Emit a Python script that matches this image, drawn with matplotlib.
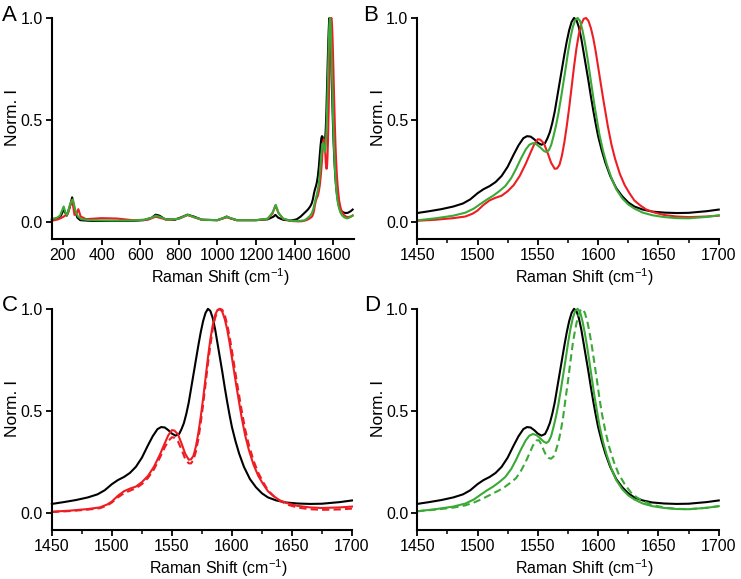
import numpy as np
import matplotlib
matplotlib.use('Agg')
import matplotlib.pyplot as plt
from matplotlib.ticker import MultipleLocator

plt.rcParams['font.family'] = ['Liberation Sans', 'DejaVu Sans']
plt.rcParams['mathtext.fontset'] = 'custom'
plt.rcParams['mathtext.rm'] = 'Liberation Sans'

RED = '#ee1d23'
GREEN = '#3aa935'

# ---- low wavenumber region (panel A only), 143-1440 cm-1
black_lo_x = [143, 170, 190, 204, 220, 235, 248, 260, 275, 290, 350, 450, 550, 620, 660, 680, 700, 730,
              780, 820, 845, 880, 920, 1000, 1030, 1048, 1065, 1100, 1200, 1260, 1290, 1300, 1315, 1340,
              1380, 1410, 1430, 1440]
black_lo_y = [0.01, 0.015, 0.03, 0.06, 0.03, 0.07, 0.12, 0.06, 0.02, 0.008, 0.004, 0.004, 0.004, 0.008,
              0.02, 0.035, 0.03, 0.012, 0.01, 0.025, 0.035, 0.025, 0.01, 0.008, 0.018, 0.026, 0.018, 0.008,
              0.008, 0.012, 0.025, 0.034, 0.02, 0.01, 0.006, 0.012, 0.025, 0.034]

red_lo_x = [143, 175, 200, 226, 238, 248, 260, 270, 280, 292, 320, 400, 480, 560, 640, 680, 700, 740,
            800, 845, 880, 920, 1000, 1048, 1100, 1200, 1260, 1285, 1300, 1315, 1340, 1380, 1420, 1440]
red_lo_y = [0.005, 0.012, 0.023, 0.04, 0.08, 0.108, 0.034, 0.04, 0.062, 0.026, 0.013, 0.018, 0.016,
            0.008, 0.01, 0.025, 0.02, 0.01, 0.015, 0.033, 0.022, 0.01, 0.008, 0.022, 0.008, 0.008, 0.015,
            0.04, 0.08, 0.045, 0.015, 0.004, 0.002, 0.003]

green_lo_x = [143, 170, 185, 204, 215, 222, 238, 252, 266, 278, 295, 340, 450, 550, 620, 660, 680, 700,
              740, 800, 845, 880, 920, 1000, 1048, 1100, 1200, 1260, 1285, 1302, 1318, 1340, 1380, 1420,
              1440]
green_lo_y = [0.015, 0.02, 0.03, 0.075, 0.04, 0.034, 0.09, 0.11, 0.05, 0.026, 0.013, 0.008, 0.006, 0.006,
              0.01, 0.02, 0.03, 0.025, 0.01, 0.015, 0.035, 0.022, 0.01, 0.008, 0.025, 0.008, 0.008, 0.015,
              0.045, 0.083, 0.04, 0.016, 0.005, 0.004, 0.006]

# ---- G band region, 1450-1700 cm-1
black_x = [1450, 1460, 1470, 1480, 1488, 1494, 1500, 1505, 1510, 1515, 1520, 1525, 1530, 1534, 1538,
           1541, 1544, 1547, 1550, 1553, 1556, 1558, 1560, 1562, 1564, 1567, 1570, 1572, 1574, 1576,
           1578, 1580, 1582, 1584, 1586, 1588, 1590, 1592, 1594, 1596, 1598, 1600, 1603, 1606, 1610,
           1615, 1620, 1625, 1630, 1637, 1645, 1655, 1665, 1675, 1690, 1700]
black_y = [0.043, 0.052, 0.062, 0.075, 0.09, 0.11, 0.14, 0.16, 0.175, 0.195, 0.225, 0.27, 0.33, 0.375,
           0.41, 0.42, 0.418, 0.405, 0.388, 0.378, 0.386, 0.41, 0.44, 0.485, 0.54, 0.645, 0.75, 0.82,
           0.885, 0.94, 0.98, 1.0, 0.99, 0.955, 0.9, 0.83, 0.76, 0.69, 0.615, 0.545, 0.48, 0.42, 0.35,
           0.29, 0.225, 0.165, 0.125, 0.095, 0.075, 0.06, 0.05, 0.045, 0.043, 0.044, 0.052, 0.06]

red_x = [1450, 1465, 1480, 1490, 1496, 1500, 1505, 1510, 1515, 1520, 1525, 1530, 1535, 1540, 1544,
         1547, 1550, 1552, 1555, 1558, 1561, 1564, 1566, 1568, 1570, 1572, 1574, 1576, 1578, 1580, 1582,
         1584, 1586, 1588, 1590, 1592, 1594, 1596, 1598, 1600, 1602, 1604, 1606, 1608, 1611, 1614, 1618,
         1622, 1626, 1630, 1635, 1640, 1647, 1655, 1665, 1675, 1690, 1700]
red_y = [0.005, 0.01, 0.018, 0.026, 0.04, 0.055, 0.083, 0.105, 0.118, 0.128, 0.15, 0.18, 0.225, 0.285,
         0.34, 0.38, 0.405, 0.403, 0.385, 0.34, 0.29, 0.26, 0.262, 0.28, 0.325, 0.39, 0.47, 0.56, 0.66,
         0.76, 0.85, 0.92, 0.97, 0.995, 1.0, 0.985, 0.95, 0.9, 0.835, 0.76, 0.685, 0.61, 0.54, 0.47, 0.38,
         0.31, 0.235, 0.18, 0.14, 0.105, 0.08, 0.06, 0.045, 0.033, 0.026, 0.023, 0.026, 0.03]

green_x = [1450, 1465, 1480, 1490, 1497, 1503, 1508, 1513, 1518, 1523, 1528, 1532, 1536, 1540, 1543,
           1546, 1549, 1552, 1555, 1557, 1559, 1561, 1563, 1565, 1567, 1569, 1571, 1573, 1575, 1577,
           1579, 1581, 1583, 1585, 1587, 1589, 1591, 1593, 1595, 1597, 1599, 1601, 1604, 1607, 1611,
           1615, 1620, 1625, 1630, 1637, 1645, 1655, 1665, 1675, 1690, 1700]
green_y = [0.007, 0.017, 0.03, 0.045, 0.065, 0.09, 0.11, 0.128, 0.15, 0.175, 0.215, 0.26, 0.31, 0.355,
           0.378, 0.386, 0.38, 0.365, 0.348, 0.342, 0.35, 0.375, 0.42, 0.47, 0.53, 0.6, 0.675, 0.75, 0.83,
           0.9, 0.955, 0.99, 1.0, 0.985, 0.94, 0.88, 0.81, 0.73, 0.65, 0.57, 0.5, 0.43, 0.35, 0.285, 0.215,
           0.16, 0.115, 0.085, 0.065, 0.045, 0.032, 0.023, 0.018, 0.017, 0.024, 0.032]

# dashed traces (panels C and D)
red2_x = [1450, 1465, 1480, 1490, 1496, 1500, 1505, 1510, 1515, 1520, 1525, 1530, 1535, 1540, 1544,
          1547, 1550, 1552, 1555, 1558, 1561, 1564, 1566, 1568, 1570, 1572, 1574, 1576, 1578, 1580, 1582,
          1584, 1586, 1588, 1590, 1592, 1594, 1596, 1598, 1600, 1602, 1604, 1606, 1608, 1611, 1614, 1618,
          1622, 1626, 1630, 1635, 1640, 1647, 1655, 1665, 1675, 1690, 1700]
red2_y = [0.003, 0.008, 0.015, 0.022, 0.035, 0.05, 0.075, 0.095, 0.108, 0.12, 0.14, 0.17, 0.212, 0.27,
          0.32, 0.352, 0.37, 0.368, 0.35, 0.31, 0.265, 0.242, 0.242, 0.26, 0.3, 0.36, 0.44, 0.53, 0.63,
          0.73, 0.82, 0.9, 0.955, 0.99, 1.0, 0.995, 0.97, 0.925, 0.865, 0.795, 0.72, 0.645, 0.575, 0.505,
          0.41, 0.335, 0.255, 0.195, 0.15, 0.11, 0.08, 0.058, 0.038, 0.025, 0.017, 0.014, 0.016, 0.02]

green2_x = [1450, 1465, 1480, 1490, 1497, 1503, 1508, 1513, 1518, 1523, 1528, 1532, 1536, 1540, 1543,
            1546, 1549, 1551, 1553, 1555, 1557, 1559, 1561, 1563, 1565, 1567, 1569, 1571, 1573, 1575,
            1577, 1579, 1581, 1583, 1585, 1587, 1589, 1591, 1593, 1595, 1597, 1599, 1601, 1603, 1606,
            1609, 1613, 1617, 1622, 1627, 1632, 1638, 1645, 1655, 1665, 1675, 1690, 1700]
green2_y = [0.007, 0.015, 0.025, 0.036, 0.05, 0.065, 0.08, 0.095, 0.11, 0.128, 0.15, 0.17, 0.205, 0.25,
            0.29, 0.33, 0.355, 0.355, 0.335, 0.305, 0.28, 0.268, 0.265, 0.275, 0.305, 0.345, 0.4, 0.47,
            0.56, 0.645, 0.74, 0.83, 0.9, 0.955, 0.99, 1.0, 0.98, 0.94, 0.88, 0.81, 0.73, 0.65, 0.565, 0.49,
            0.4, 0.325, 0.25, 0.19, 0.14, 0.1, 0.075, 0.055, 0.038, 0.025, 0.019, 0.017, 0.024, 0.032]

fig = plt.figure(figsize=(7.41, 5.79), dpi=100)

positions = {
    'A': [0.070, 0.587, 0.408, 0.382],
    'B': [0.563, 0.587, 0.407, 0.382],
    'C': [0.070, 0.0846, 0.405, 0.382],
    'D': [0.563, 0.0846, 0.407, 0.382],
}
letter_pos = {'A': (0.003, 0.992), 'B': (0.490, 0.992), 'C': (0.003, 0.490), 'D': (0.492, 0.490)}


def style(ax, letter):
    for s in ['top', 'right']:
        ax.spines[s].set_visible(False)
    for s in ['left', 'bottom']:
        ax.spines[s].set_linewidth(1.5)
    ax.set_ylim(-0.085, 1.0)
    ax.set_yticks([0.0, 0.5, 1.0])
    ax.set_yticklabels(['0.0', '0.5', '1.0'])
    ax.tick_params(which='major', length=4, width=1.3, labelsize=11.5, pad=2.5)
    ax.tick_params(which='minor', length=2.8, width=1.1)
    ax.set_ylabel('Norm. I', fontsize=12.5)
    ax.yaxis.set_label_coords(-0.105, 0.55)
    ax.set_xlabel('Raman Shift (cm$^{-1}$)', fontsize=11.5)
    ax.xaxis.set_label_coords(0.556, -0.122)
    fig.text(letter_pos[letter][0], letter_pos[letter][1], letter, fontsize=16, va='top', ha='left')


lw = 1.5

# A
ax = fig.add_axes(positions['A'])
ax.plot(black_lo_x + black_x, black_lo_y + black_y, color='black', lw=lw, clip_on=False)
ax.plot(red_lo_x + red_x, red_lo_y + red_y, color=RED, lw=lw, clip_on=False)
ax.plot(green_lo_x + green_x, green_lo_y + green_y, color=GREEN, lw=lw, clip_on=False)
ax.set_xlim(143, 1708)
ax.set_xticks(np.arange(200, 1601, 200))
style(ax, 'A')

# B
ax = fig.add_axes(positions['B'])
ax.plot(black_x, black_y, color='black', lw=lw, clip_on=False)
ax.plot(red_x, red_y, color=RED, lw=lw, clip_on=False)
ax.plot(green_x, green_y, color=GREEN, lw=lw, clip_on=False)
ax.set_xlim(1450, 1700)
ax.xaxis.set_major_locator(MultipleLocator(50))
ax.xaxis.set_minor_locator(MultipleLocator(25))
style(ax, 'B')

# C
ax = fig.add_axes(positions['C'])
ax.plot(black_x, black_y, color='black', lw=lw, clip_on=False)
ax.plot(red_x, red_y, color=RED, lw=lw, clip_on=False)
ax.plot(red2_x, red2_y, color=RED, lw=lw, ls=(0, (3.5, 2)), clip_on=False)
ax.set_xlim(1450, 1700)
ax.xaxis.set_major_locator(MultipleLocator(50))
ax.xaxis.set_minor_locator(MultipleLocator(25))
style(ax, 'C')

# D
ax = fig.add_axes(positions['D'])
ax.plot(black_x, black_y, color='black', lw=lw, clip_on=False)
ax.plot(green_x, green_y, color=GREEN, lw=lw, clip_on=False)
ax.plot(green2_x, green2_y, color=GREEN, lw=lw, ls=(0, (3.5, 2)), clip_on=False)
ax.set_xlim(1450, 1700)
ax.xaxis.set_major_locator(MultipleLocator(50))
ax.xaxis.set_minor_locator(MultipleLocator(25))
style(ax, 'D')

fig.savefig('out.png', dpi=100)
